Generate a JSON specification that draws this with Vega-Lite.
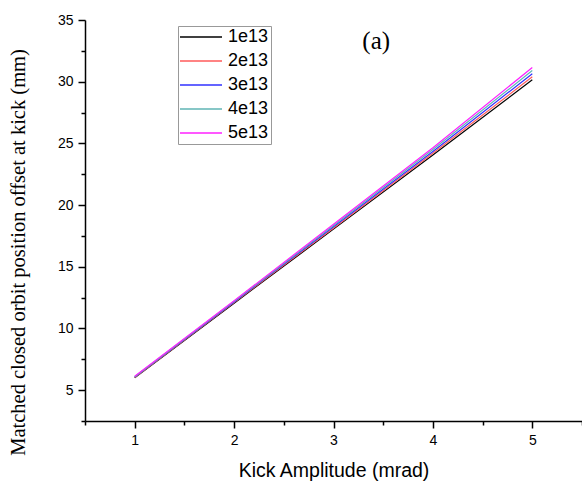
{
  "$schema": "https://vega.github.io/schema/vega-lite/v6.json",
  "width": 497,
  "height": 401,
  "autosize": {"type": "none"},
  "padding": {"left": 85, "top": 20, "right": 0, "bottom": 60},
  "background": "white",
  "config": {
    "view": {"stroke": null},
    "axis": {
      "grid": false,
      "domainColor": "black",
      "domainWidth": 1.5,
      "tickColor": "black",
      "tickWidth": 1.5,
      "labelFont": "Liberation Sans",
      "labelFontSize": 14,
      "labelColor": "black",
      "titleColor": "black",
      "titleFontWeight": "normal"
    }
  },
  "datasets": {
    "curves": [
      {"kick": 1, "offset": 6.00, "intensity": "1e13"},
      {"kick": 2, "offset": 12.05, "intensity": "1e13"},
      {"kick": 3, "offset": 18.05, "intensity": "1e13"},
      {"kick": 4, "offset": 24.05, "intensity": "1e13"},
      {"kick": 5, "offset": 30.15, "intensity": "1e13"},
      {"kick": 1, "offset": 6.03, "intensity": "2e13"},
      {"kick": 2, "offset": 12.10, "intensity": "2e13"},
      {"kick": 3, "offset": 18.15, "intensity": "2e13"},
      {"kick": 4, "offset": 24.20, "intensity": "2e13"},
      {"kick": 5, "offset": 30.40, "intensity": "2e13"},
      {"kick": 1, "offset": 6.06, "intensity": "3e13"},
      {"kick": 2, "offset": 12.15, "intensity": "3e13"},
      {"kick": 3, "offset": 18.25, "intensity": "3e13"},
      {"kick": 4, "offset": 24.35, "intensity": "3e13"},
      {"kick": 5, "offset": 30.65, "intensity": "3e13"},
      {"kick": 1, "offset": 6.09, "intensity": "4e13"},
      {"kick": 2, "offset": 12.20, "intensity": "4e13"},
      {"kick": 3, "offset": 18.35, "intensity": "4e13"},
      {"kick": 4, "offset": 24.50, "intensity": "4e13"},
      {"kick": 5, "offset": 30.90, "intensity": "4e13"},
      {"kick": 1, "offset": 6.12, "intensity": "5e13"},
      {"kick": 2, "offset": 12.25, "intensity": "5e13"},
      {"kick": 3, "offset": 18.45, "intensity": "5e13"},
      {"kick": 4, "offset": 24.65, "intensity": "5e13"},
      {"kick": 5, "offset": 31.15, "intensity": "5e13"}
    ]
  },
  "resolve": {"axis": {"x": "independent", "y": "independent"}},
  "layer": [
    {
      "data": {"name": "curves"},
      "mark": {"type": "line", "strokeWidth": 1.2, "clip": true},
      "encoding": {
        "x": {
          "field": "kick",
          "type": "quantitative",
          "scale": {"domain": [0.5, 5.5], "nice": false, "zero": false},
          "axis": {
            "orient": "bottom",
            "title": "Kick Amplitude (mrad)",
            "titleFont": "Liberation Sans",
            "titleFontSize": 19.5,
            "titleBaseline": "alphabetic",
            "titleY": 55,
            "values": [1, 2, 3, 4, 5],
            "format": "~g",
            "tickSize": 7,
            "labelPadding": 5,
            "labelFlush": false,
            "labelOverlap": false
          }
        },
        "y": {
          "field": "offset",
          "type": "quantitative",
          "scale": {"domain": [2.5, 35], "nice": false, "zero": false},
          "axis": {
            "orient": "left",
            "title": "Matched closed orbit position offset at kick (mm)",
            "titleFont": "Liberation Serif",
            "titleFontSize": 20.5,
            "titleX": -57,
            "titleY": 232,
            "values": [5, 10, 15, 20, 25, 30, 35],
            "format": "~g",
            "tickSize": 7,
            "labelPadding": 5,
            "labelFlush": false,
            "labelOverlap": false
          }
        },
        "color": {
          "field": "intensity",
          "type": "nominal",
          "scale": {
            "domain": ["1e13", "2e13", "3e13", "4e13", "5e13"],
            "range": ["#000000", "#ff5a5a", "#3030ff", "#5fb5b5", "#ff20ff"]
          },
          "legend": {
            "title": null,
            "orient": "none",
            "legendX": 93,
            "legendY": 6,
            "padding": 2,
            "strokeColor": "#999999",
            "symbolType": "M-3,0H11",
            "symbolSize": 36,
            "symbolStrokeWidth": 1.5,
            "labelFont": "Liberation Sans",
            "labelFontSize": 18,
            "labelColor": "black",
            "labelOffset": 30,
            "rowPadding": 6
          }
        }
      }
    },
    {
      "data": {"values": [{}]},
      "mark": {"type": "point", "opacity": 0},
      "encoding": {
        "x": {
          "datum": 1,
          "type": "quantitative",
          "axis": {
            "orient": "bottom",
            "title": null,
            "values": [0.5, 1.5, 2.5, 3.5, 4.5, 5.5],
            "labels": false,
            "domain": false,
            "tickSize": 4
          }
        },
        "y": {
          "datum": 5,
          "type": "quantitative",
          "axis": {
            "orient": "left",
            "title": null,
            "values": [2.5, 7.5, 12.5, 17.5, 22.5, 27.5, 32.5],
            "labels": false,
            "domain": false,
            "tickSize": 4
          }
        }
      }
    },
    {
      "data": {"values": [{}]},
      "mark": {"type": "text", "font": "Liberation Serif", "fontSize": 25, "baseline": "middle", "align": "center", "color": "black"},
      "encoding": {
        "x": {"datum": 3.43, "type": "quantitative", "axis": null},
        "y": {"datum": 33.3, "type": "quantitative", "axis": null},
        "text": {"value": "(a)"}
      }
    }
  ]
}
